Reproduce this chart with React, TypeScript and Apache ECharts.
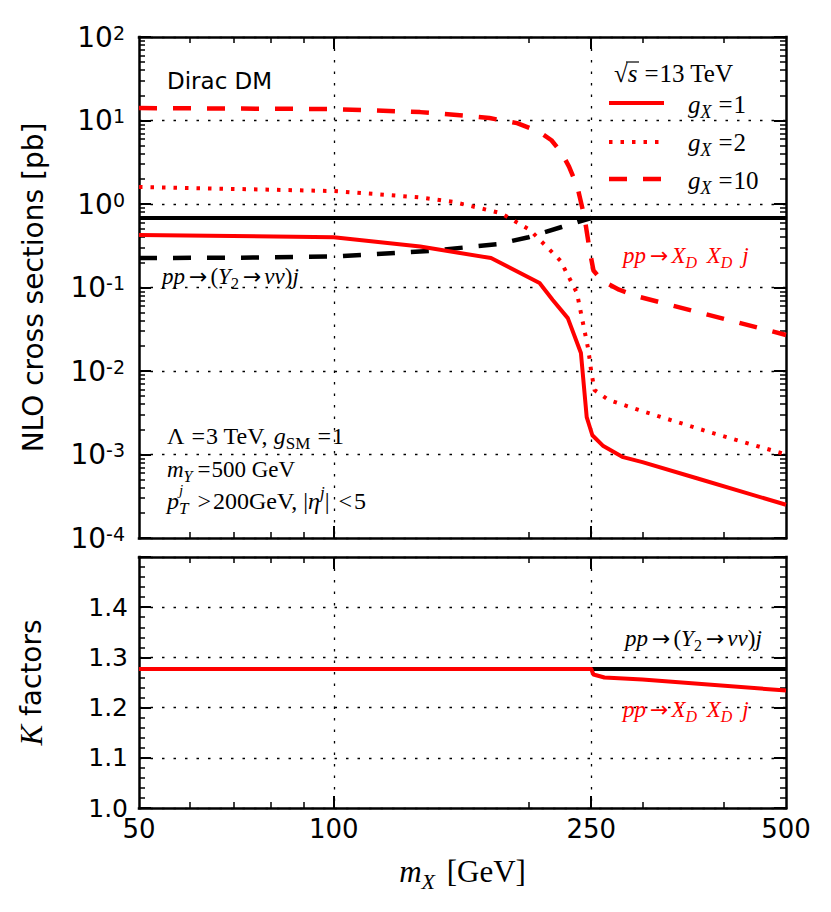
import React, { useEffect, useRef } from 'react';
import * as echarts from 'echarts';

// ---------- axis ticks ----------
const massLabels = [50.00001, 100, 250, 499.9999];
const massMajorTicks = [100, 250];
const massMinorTicks = [60, 70, 80, 90, 200, 300, 400];
const xsecMinorTicks = [
  2e-4, 3e-4, 4e-4, 5e-4, 6e-4, 7e-4, 8e-4, 9e-4,
  2e-3, 3e-3, 4e-3, 5e-3, 6e-3, 7e-3, 8e-3, 9e-3,
  2e-2, 3e-2, 4e-2, 5e-2, 6e-2, 7e-2, 8e-2, 9e-2,
  0.2, 0.3, 0.4, 0.5, 0.6, 0.7, 0.8, 0.9,
  2, 3, 4, 5, 6, 7, 8, 9,
  20, 30, 40, 50, 60, 70, 80, 90,
];

// ---------- cross sections [pb] ----------
const mY2Full = [50, 500];
const xsY2Full = [0.68, 0.68];

const mY2 = [50, 75, 100, 141, 179, 200, 225, 250];
const xsY2 = [0.225, 0.228, 0.235, 0.275, 0.33, 0.4, 0.53, 0.68];

const mG1 = [50, 100, 136, 175, 208, 218, 230, 241, 246, 251, 261, 280, 300, 364, 500];
const xsG1 = [0.425, 0.4, 0.31, 0.225, 0.113, 0.071, 0.043, 0.0164, 0.0028, 0.0017, 0.00126, 0.00093, 0.00081, 0.00052, 0.00025];

const mG2 = [50, 100, 136, 153, 181, 201, 224, 237.6, 241, 247.5, 250, 253, 266, 300, 377, 500];
const xsG2 = [1.6, 1.43, 1.2, 1.06, 0.78, 0.49, 0.21, 0.086, 0.0496, 0.0178, 0.0098, 0.0059, 0.0045, 0.0033, 0.0019, 0.001];

const mG10 = [50, 100, 136, 160, 174, 192, 208, 217, 225, 231, 238, 244, 249, 252, 260, 276, 297, 500];
const xsG10 = [14.1, 13.7, 12.6, 11.4, 10.7, 9.3, 7.3, 5.8, 4.1, 2.8, 1.6, 0.7, 0.26, 0.16, 0.12, 0.094, 0.077, 0.027];

// ---------- K factors ----------
const mKY2 = [50, 500];
const kY2 = [1.277, 1.277];
const mKX = [50, 250, 252, 262, 300, 500];
const kX = [1.277, 1.277, 1.266, 1.26, 1.256, 1.234];

const SERIF = 'Liberation Serif';
const SANS = 'DejaVu Sans';
const RED = '#ff0000';
const BLACK = '#000000';

const zip = (xs: number[], ys: number[]) => xs.map((x, i) => [x, ys[i]]);

function mathRich(F: number, color: string) {
  const s = Math.round(F * 0.7);
  const base = { fontFamily: SERIF, fontSize: F, lineHeight: F, color, fill: color };
  return {
    i: { ...base, fontStyle: 'italic' },
    r: { ...base },
    arr: { ...base, fontFamily: SANS, fontSize: Math.round(F * 0.95), padding: [0, 3, 0, 4] },
    req: { ...base, padding: [0, 1, 0, 7] },
    req2: { ...base, padding: [0, 1, 0, 5] },
    req3: { ...base, padding: [0, 2, 0, 9] },
    sp: { ...base, padding: [0, 2, 0, 2] },
    is: { fontFamily: SERIF, fontStyle: 'italic', fontSize: s, lineHeight: s, padding: [Math.round(F * 0.6), 0, 0, 0], color, fill: color },
    rs: { fontFamily: SERIF, fontSize: s, lineHeight: s, padding: [Math.round(F * 0.6), 0, 0, 0], color, fill: color },
    isp: { fontFamily: SERIF, fontStyle: 'italic', fontSize: s, lineHeight: s, padding: [0, 0, Math.round(F * 0.7), 0], color, fill: color },
  };
}

function mtext(x: number, y: number, text: string, F: number, color: string) {
  return {
    type: 'text',
    x,
    y,
    z: 100,
    silent: true,
    style: { text, rich: mathRich(F, color), fill: color, align: 'left', verticalAlign: 'middle' },
  };
}

const frameLine = { show: true, onZero: false, lineStyle: { color: BLACK, width: 2.5, cap: 'square' } };
const noLine = { show: false, onZero: false };
const dottedGrid = { show: true, lineStyle: { color: BLACK, width: 1.3, type: [2.5, 9] } };

function massAxis(gridIndex: number, position: string, major: boolean, labels: boolean, grid: boolean, name?: any) {
  const ax: any = {
    type: 'log',
    logBase: 10,
    min: 50,
    max: 500,
    gridIndex,
    position,
    axisLine: major ? frameLine : noLine,
    axisTick: {
      show: true,
      inside: true,
      length: major ? 12 : 6,
      customValues: major ? massMajorTicks : massMinorTicks,
      lineStyle: { color: BLACK, width: major ? 2 : 1.5 },
    },
    axisLabel: labels
      ? {
          show: true,
          customValues: massLabels,
          formatter: (v: number) => String(Math.round(v)),
          fontFamily: SANS,
          fontSize: 26,
          color: BLACK,
          margin: 8,
        }
      : { show: false },
    splitLine: grid ? dottedGrid : { show: false },
    minorTick: { show: false },
    minorSplitLine: { show: false },
  };
  if (name) Object.assign(ax, name);
  return ax;
}

function xsecAxis(position: string, major: boolean, labels: boolean, grid: boolean, name?: any) {
  const ax: any = {
    type: 'log',
    logBase: 10,
    min: 1e-4,
    max: 100,
    splitNumber: 6,
    gridIndex: 0,
    position,
    axisLine: major ? frameLine : noLine,
    axisTick: major
      ? { show: true, inside: true, length: 12, lineStyle: { color: BLACK, width: 2 } }
      : { show: true, inside: true, length: 6, customValues: xsecMinorTicks, lineStyle: { color: BLACK, width: 1.5 } },
    axisLabel: labels
      ? {
          show: true,
          margin: 14,
          formatter: (v: number) => {
            const e = Math.round(Math.log10(v));
            return '{b|10}{s|' + String(e) + '}';
          },
          rich: {
            b: { fontFamily: SANS, fontSize: 28, lineHeight: 28, padding: [11, 0, 11, 0], color: BLACK },
            s: { fontFamily: SANS, fontSize: 19, lineHeight: 19, verticalAlign: 'top', color: BLACK },
          },
        }
      : { show: false },
    splitLine: grid ? dottedGrid : { show: false },
    minorTick: { show: false },
    minorSplitLine: { show: false },
  };
  if (name) Object.assign(ax, name);
  return ax;
}

function kAxis(position: string, labels: boolean, name?: any) {
  const ax: any = {
    type: 'value',
    min: 1.0,
    max: 1.5,
    interval: 0.1,
    gridIndex: 1,
    position,
    axisLine: frameLine,
    axisTick: { show: true, inside: true, length: 12, lineStyle: { color: BLACK, width: 2 } },
    minorTick: { show: true, splitNumber: 5, length: 6, lineStyle: { color: BLACK, width: 1.5 } },
    minorSplitLine: { show: false },
    axisLabel: labels
      ? {
          show: true,
          margin: 11,
          fontFamily: SANS,
          fontSize: 25,
          color: BLACK,
          formatter: (v: number) => (Math.abs(v - 1.5) < 1e-6 ? '' : v.toFixed(1)),
        }
      : { show: false },
    splitLine: labels ? dottedGrid : { show: false },
  };
  if (name) Object.assign(ax, name);
  return ax;
}

function lineSeries(name: string, xs: number[], ys: number[], color: string, width: number, type: any, xi: number, yi: number, z: number) {
  return {
    type: 'line',
    name,
    data: zip(xs, ys),
    xAxisIndex: xi,
    yAxisIndex: yi,
    showSymbol: false,
    symbol: 'none',
    silent: true,
    z,
    lineStyle: { color, width, type, cap: 'butt', join: 'round' },
  };
}

const DASH = [18, 16];
const DOT = [3.5, 8];

const PP_Y2 = '{i|pp}{arr|→}{r|(}{i|Y}{rs|2}{arr|→}{i|νν}{r|)}{i|j}';
const PP_XX = '{i|pp}{arr|→}{i|X}{is|D}{sp| }{i|X}{is|D}{sp| }{i|j}';

const option: any = {
  animation: false,
  backgroundColor: '#ffffff',
  grid: [
    { left: 139, right: 45, top: 37, height: 501, containLabel: false, outerBoundsMode: 'none' },
    { left: 139, right: 45, top: 557, height: 251, containLabel: false, outerBoundsMode: 'none' },
  ],
  xAxis: [
    massAxis(0, 'bottom', true, false, true),
    massAxis(0, 'bottom', false, false, false),
    massAxis(0, 'top', true, false, false),
    massAxis(0, 'top', false, false, false),
    massAxis(1, 'bottom', true, true, true, {
      name: '{i|m}{is|X}{sp| }{r|[GeV]}',
      nameLocation: 'middle',
      nameGap: 48,
      nameMoveOverlap: false,
      nameTextStyle: { rich: mathRich(31, BLACK) },
    }),
    massAxis(1, 'bottom', false, false, false),
    massAxis(1, 'top', true, false, false),
    massAxis(1, 'top', false, false, false),
  ],
  yAxis: [
    xsecAxis('left', true, true, true, {
      name: 'NLO cross sections [pb]',
      nameLocation: 'middle',
      nameGap: 92,
      nameMoveOverlap: false,
      nameTextStyle: { fontFamily: SANS, fontSize: 28, color: BLACK },
    }),
    xsecAxis('left', false, false, false),
    xsecAxis('right', true, false, false),
    xsecAxis('right', false, false, false),
    kAxis('left', true, {
      name: '{k|K}{f| factors}',
      nameLocation: 'middle',
      nameGap: 92,
      nameMoveOverlap: false,
      nameTextStyle: {
        rich: {
          k: { fontFamily: SERIF, fontStyle: 'italic', fontSize: 31, color: BLACK },
          f: { fontFamily: SANS, fontSize: 28, color: BLACK },
        },
      },
    }),
    kAxis('right', false),
  ],
  series: [
    lineSeries('pp→(Y2→νν)j above threshold', mY2Full, xsY2Full, BLACK, 4, 'solid', 0, 0, 2),
    lineSeries('pp→(Y2→νν)j', mY2, xsY2, BLACK, 4.5, DASH, 0, 0, 3),
    lineSeries('gX=1', mG1, xsG1, RED, 4, 'solid', 0, 0, 4),
    lineSeries('gX=2', mG2, xsG2, RED, 4, DOT, 0, 0, 4),
    lineSeries('gX=10', mG10, xsG10, RED, 4.5, DASH, 0, 0, 4),
    lineSeries('K pp→(Y2→νν)j', mKY2, kY2, BLACK, 4, 'solid', 4, 4, 2),
    lineSeries('K pp→XD XD j', mKX, kX, RED, 4, 'solid', 4, 4, 3),
  ],
  graphic: [
    {
      type: 'text', x: 167, y: 81, z: 100, silent: true,
      style: { text: 'Dirac DM', fontFamily: SANS, fontSize: 23, fill: BLACK, align: 'left', verticalAlign: 'middle' },
    },
    mtext(614, 73, '{r|√}{i|s}{req|=}{r|13 TeV}', 25, BLACK),
    { type: 'line', z: 100, silent: true, shape: { x1: 626, y1: 62, x2: 639, y2: 62 }, style: { stroke: BLACK, lineWidth: 1.2 } },
    { type: 'line', z: 100, silent: true, shape: { x1: 609, y1: 103, x2: 664, y2: 103 }, style: { stroke: RED, lineWidth: 4 } },
    { type: 'line', z: 100, silent: true, shape: { x1: 609, y1: 142, x2: 664, y2: 142 }, style: { stroke: RED, lineWidth: 4, lineDash: DOT } },
    { type: 'line', z: 100, silent: true, shape: { x1: 609, y1: 179, x2: 664, y2: 179 }, style: { stroke: RED, lineWidth: 4.5, lineDash: DASH } },
    mtext(688, 104, '{i|g}{is|X}{req|=}{r|1}', 25, BLACK),
    mtext(688, 142, '{i|g}{is|X}{req|=}{r|2}', 25, BLACK),
    mtext(688, 180, '{i|g}{is|X}{req|=}{r|10}', 25, BLACK),
    mtext(162, 276, PP_Y2, 23, BLACK),
    mtext(623, 255, PP_XX, 23, RED),
    mtext(625, 638, PP_Y2, 23, BLACK),
    mtext(623, 709, PP_XX, 23, RED),
    mtext(167, 436, '{r|Λ}{req|=}{r|3 TeV, }{i|g}{rs|SM}{req|=}{r|1}', 24, BLACK),
    mtext(167, 469, '{i|m}{is|Y}{req2|=}{r|500 GeV}', 23, BLACK),
    mtext(167, 501, '{i|p}{is|T}{req3|>}{r|200GeV, |}{i|η}{isp|j}{r||}{req3|<}{r|5}', 24, BLACK),
    {
      type: 'text', x: 179, y: 490, z: 100, silent: true,
      style: { text: 'j', fontFamily: SERIF, fontStyle: 'italic', fontSize: 15, fill: BLACK, align: 'left', verticalAlign: 'middle' },
    },
  ],
};

export default function App() {
  const ref = useRef<HTMLDivElement>(null);
  useEffect(() => {
    const el = ref.current;
    if (!el) return;
    const chart = echarts.init(el, undefined, { renderer: 'svg', width: 831, height: 912 });
    chart.setOption(option);
    return () => {
      chart.dispose();
    };
  }, []);
  return (
    <div
      ref={ref}
      style={{ position: 'fixed', left: 0, top: 0, width: 831, height: 912, background: '#ffffff' }}
    />
  );
}
